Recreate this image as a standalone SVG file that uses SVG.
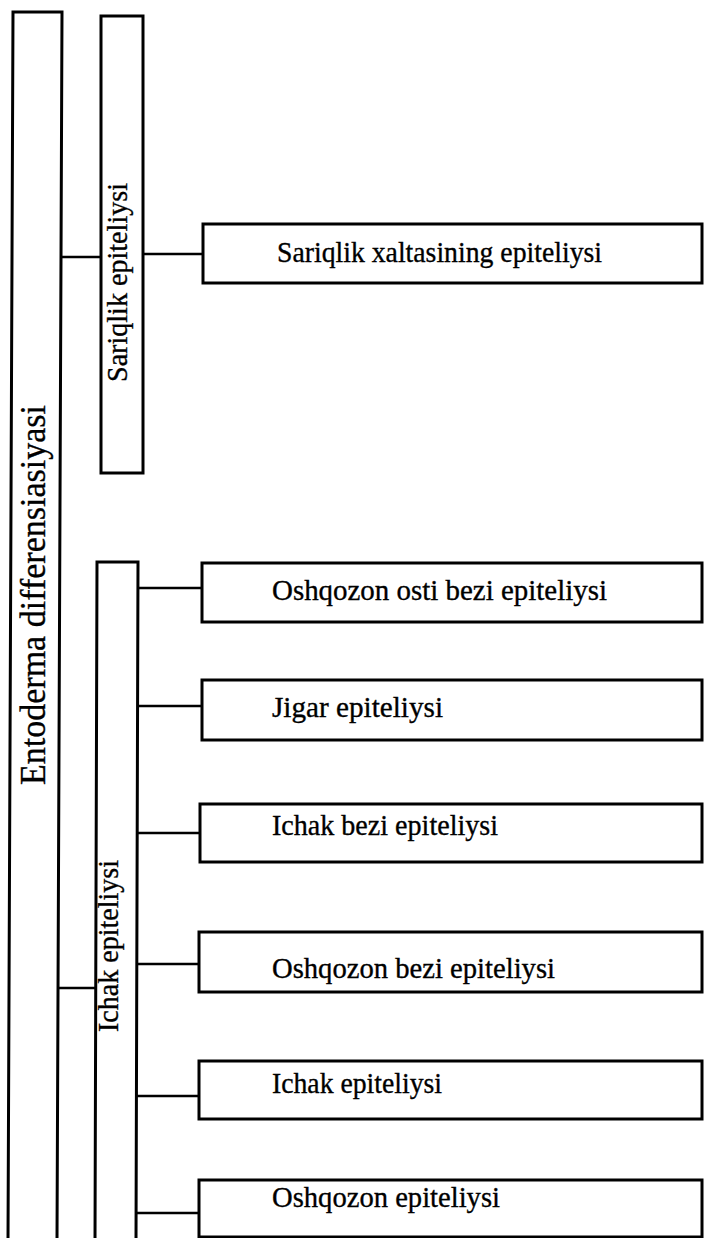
<svg xmlns="http://www.w3.org/2000/svg" width="704" height="1238" viewBox="0 0 704 1238">
<style>
.box{fill:#fff;stroke:#000;stroke-width:3}
.open{fill:none;stroke:#000;stroke-width:3;stroke-linejoin:miter}
.con{stroke:#000;stroke-width:2.5;fill:none}
.t{font-family:"Liberation Serif","Times New Roman",serif;font-size:30px;fill:#000;stroke:#000;stroke-width:0.35}
.big{font-family:"Liberation Serif","Times New Roman",serif;font-size:36px;fill:#000;stroke:#000;stroke-width:0.35}
</style>
<rect width="704" height="1238" fill="#fff"/>
<g id="connectors">
<line class="con" x1="62" y1="257" x2="102" y2="257"/>
<line class="con" x1="144" y1="254" x2="203" y2="254"/>
<line class="con" x1="58" y1="988" x2="96" y2="988"/>
<line class="con" x1="138" y1="588" x2="202" y2="588"/>
<line class="con" x1="138" y1="706" x2="202" y2="706"/>
<line class="con" x1="137" y1="833" x2="200" y2="833"/>
<line class="con" x1="137" y1="964" x2="199" y2="964"/>
<line class="con" x1="136" y1="1096" x2="199" y2="1096"/>
<line class="con" x1="136" y1="1213" x2="199" y2="1213"/>
</g>
<g id="entoderma">
<path class="open" d="M8 1240 L13 12 L62 12 L57 1240"/>
<text class="big" transform="translate(45 595) rotate(-90)" text-anchor="middle" textLength="380" lengthAdjust="spacingAndGlyphs">Entoderma differensiasiyasi</text>
</g>
<g id="sariqlik">
<rect class="box" x="101" y="16" width="42" height="457"/>
<text class="t" transform="translate(127 282.5) rotate(-90)" text-anchor="middle" textLength="199" lengthAdjust="spacingAndGlyphs">Sariqlik epiteliysi</text>
</g>
<g id="ichak">
<path class="open" d="M95 1240 L97 562 L138 562 L136 1240"/>
<text class="t" transform="translate(118 946) rotate(-90)" text-anchor="middle" textLength="172" lengthAdjust="spacingAndGlyphs">Ichak epiteliysi</text>
</g>
<g id="sariqlik-xaltasi">
<rect class="box" x="203" y="224" width="499" height="59"/>
<text class="t" x="277" y="262" textLength="325" lengthAdjust="spacingAndGlyphs">Sariqlik xaltasining epiteliysi</text>
</g>
<g id="oshqozon-osti">
<rect class="box" x="202" y="563" width="500" height="59"/>
<text class="t" x="272" y="600" textLength="335" lengthAdjust="spacingAndGlyphs">Oshqozon osti bezi epiteliysi</text>
</g>
<g id="jigar">
<rect class="box" x="202" y="680" width="500" height="60"/>
<text class="t" x="272" y="717" textLength="171" lengthAdjust="spacingAndGlyphs">Jigar epiteliysi</text>
</g>
<g id="ichak-bezi">
<rect class="box" x="200" y="804" width="502" height="58"/>
<text class="t" x="272" y="835" textLength="226" lengthAdjust="spacingAndGlyphs">Ichak bezi epiteliysi</text>
</g>
<g id="oshqozon-bezi">
<rect class="box" x="199" y="932" width="503" height="60"/>
<text class="t" x="272" y="978" textLength="283" lengthAdjust="spacingAndGlyphs">Oshqozon bezi epiteliysi</text>
</g>
<g id="ichak-epiteliysi">
<rect class="box" x="199" y="1061" width="503" height="58"/>
<text class="t" x="272" y="1093" textLength="170" lengthAdjust="spacingAndGlyphs">Ichak epiteliysi</text>
</g>
<g id="oshqozon-epiteliysi">
<rect class="box" x="199" y="1180" width="503" height="57"/>
<text class="t" x="272" y="1207" textLength="228" lengthAdjust="spacingAndGlyphs">Oshqozon epiteliysi</text>
</g>
</svg>
